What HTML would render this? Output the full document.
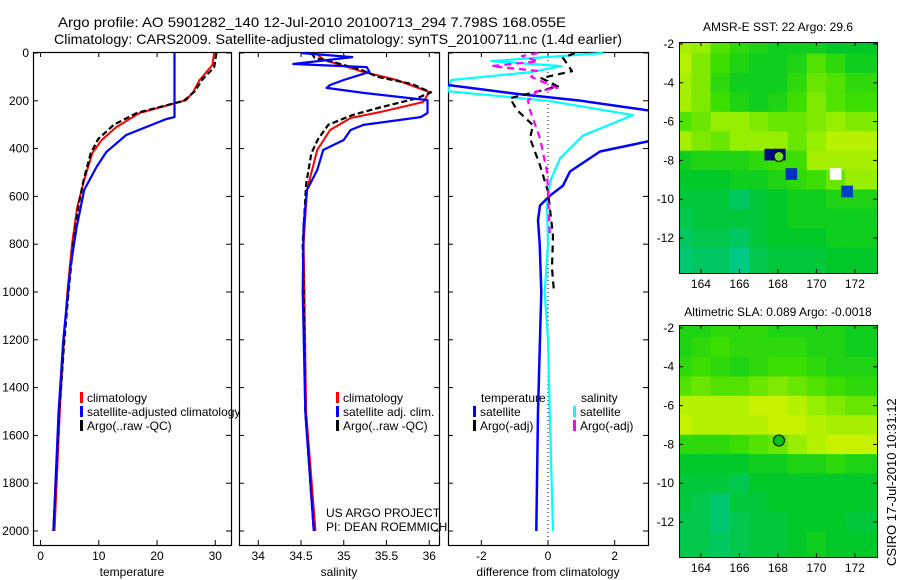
<!DOCTYPE html>
<html><head><meta charset="utf-8">
<style>
html,body{margin:0;padding:0;background:#fff;}
svg{display:block;font-family:"Liberation Sans",sans-serif;}
</style></head>
<body>
<svg id="chart" width="900" height="580" viewBox="0 0 900 580" xmlns="http://www.w3.org/2000/svg">
<rect width="900" height="580" fill="#fff"/>
<text x="58" y="27" font-size="14" textLength="508" lengthAdjust="spacingAndGlyphs">Argo profile: AO 5901282_140 12-Jul-2010 20100713_294 7.798S 168.055E</text>
<text x="54" y="44" font-size="14" textLength="568" lengthAdjust="spacingAndGlyphs">Climatology: CARS2009. Satellite-adjusted climatology: synTS_20100711.nc (1.4d earlier)</text>
<g id="plots"></g>
<text x="778" y="31" font-size="12" text-anchor="middle">AMSR-E SST: 22 Argo: 29.6</text>
<text x="778" y="316" font-size="12" text-anchor="middle">Altimetric SLA: 0.089 Argo: -0.0018</text>
<text transform="translate(896,566) rotate(-90)" font-size="13">CSIRO 17-Jul-2010 10:31:12</text>
<text x="326" y="517" font-size="12">US ARGO PROJECT</text>
<text x="326" y="531" font-size="12">PI: DEAN ROEMMICH</text>
</svg>
<script>
// ---- profile data (depth in dbar) ----
const climDepth = [0,50,113,163,197,251,310,364,418,531,644,800,1000,1200,1500,2000];
const climTemp  = [29.8,29.5,27.3,26.2,25,17,13,10.5,8.9,7.5,6.3,5.4,4.6,4.0,3.3,2.4];
const satTempDepth = [0,268,276,343,414,477,573,728,900,1200,1500,2000];
const satTemp      = [23,23,21.6,14.7,11.3,9.6,7.5,6.2,5.1,3.9,3.1,2.2];
const argoTempDepth = [0,30,60,110,160,200,250,300,360,420,530,640,800,1000,1200,1500,2000];
const argoTemp      = [30.2,30,29.8,27.8,26.5,24.6,16.6,12.6,9.9,8.6,7.4,6.5,5.6,4.8,4.1,3.2,2.2];

const climSalDepth = [0,29,79,113,163,205,247,272,322,406,573,800,1000,1500,2000];
const climSal      = [34.67,34.77,35.23,35.62,36.0,35.93,35.43,35.08,34.84,34.69,34.57,34.53,34.54,34.56,34.67];
const satSalDepth = [0,17,46,59,79,113,134,146,167,197,251,268,301,322,364,406,490,573,720,1000,1500,2000];
const satSal      = [34.5,35.1,34.41,35.27,35.3,35.0,34.84,34.8,35.23,35.98,35.98,35.9,35.23,35.08,35.0,34.76,34.69,34.57,34.53,34.52,34.55,34.65];
const argoSalDepth = [0,20,40,70,100,130,165,190,230,260,300,360,420,550,800,1000,1500,2000];
const argoSal      = [34.62,34.66,34.9,35.2,35.4,35.8,36.02,35.85,35.4,35.1,34.82,34.7,34.62,34.56,34.52,34.53,34.55,34.65];

const satTdiffDepth = [0,100,130,170,200,230,260,280,300,370,412,496,555,597,638,700,800,1000,1500,2000];
const satTdiff      = [-7,-5,-3.2,-1,1,2.5,4,5,4.5,3,1.56,0.66,0.45,0.06,-0.24,-0.3,-0.25,-0.2,-0.3,-0.35];
const satSdiffDepth = [0,34,55,80,113,160,200,260,345,441,538,638,800,1000,1200,1500,2000];
const satSdiff      = [1.65,-1.7,0.4,-0.5,-2.9,-3,0,2.55,1.05,0.36,0.06,-0.03,0,-0.1,0,0.05,0.15];
const argoTdiffDepth = [0,21,50,76,105,140,189,239,302,357,470,580,765,900,1000];
const argoTdiff      = [0.8,0.45,0.6,0.72,-0.2,0.3,-1.14,-0.93,-0.45,-0.54,-0.24,0,0.15,0.12,0.18];
const argoSdiffDepth = [0,13,35,55,75,100,147,160,200,239,357,496,777];
const argoSdiff      = [-0.3,-0.78,-0.3,-1.7,-0.33,-0.5,0.27,-0.33,-0.6,-0.54,-0.24,-0.03,0.06];

const depthTicks = [0,200,400,600,800,1000,1200,1400,1600,1800,2000];
const tempTicks = [0,10,20,30];
const salTicks = [34,34.5,35,35.5,36];
const diffTicks = [-2,0,2];

// ---- map data (rows lat -2..-13, cols lon 163..172) ----
const mapLats = [-2,-3,-4,-5,-6,-7,-8,-9,-10,-11,-12,-13];
const mapLons = [163,164,165,166,167,168,169,170,171,172];
const sstGrid = [
 [.8,.75,.6,.5,.45,.4,.4,.4,.35,.35],
 [.85,.7,.55,.45,.4,.4,.45,.6,.5,.4],
 [.8,.7,.5,.4,.4,.4,.5,.65,.6,.5],
 [.8,.7,.55,.45,.4,.45,.55,.7,.6,.55],
 [.6,.65,.75,.75,.7,.65,.65,.7,.75,.7],
 [.8,.7,.65,.75,.75,.75,.65,.75,.85,.85],
 [.4,.45,.45,.45,.5,.55,.55,.8,.8,.8],
 [.35,.35,.35,.4,.4,.45,.5,.55,.65,.75],
 [.3,.3,.3,.2,.3,.35,.4,.4,.45,.45],
 [.25,.3,.3,.3,.3,.35,.4,.4,.4,.4],
 [.2,.25,.25,.2,.3,.35,.35,.35,.4,.4],
 [.15,.2,.2,.1,.25,.3,.3,.3,.35,.35]];
const slaGrid = [
 [.45,.45,.5,.5,.5,.45,.45,.45,.45,.4],
 [.45,.5,.55,.5,.5,.5,.5,.45,.45,.4],
 [.5,.55,.5,.45,.5,.55,.55,.5,.45,.45],
 [.6,.65,.6,.6,.65,.7,.65,.6,.55,.5],
 [.85,.85,.85,.85,.9,.9,.85,.75,.7,.65],
 [.9,.85,.85,.85,.85,.9,.9,.85,.8,.8],
 [.5,.5,.5,.55,.6,.65,.75,.85,.9,.9],
 [.35,.35,.35,.35,.4,.4,.45,.45,.5,.45],
 [.3,.3,.3,.25,.35,.35,.35,.35,.35,.35],
 [.3,.25,.15,.3,.3,.35,.35,.35,.35,.35],
 [.25,.25,.15,.25,.3,.3,.35,.35,.35,.3],
 [.25,.25,.2,.25,.3,.3,.35,.4,.35,.35]];
const sstBlobLon = [167.6,168.1,168.7,171.6,171.0];
const sstBlobLat = [-7.7,-7.7,-8.7,-9.6,-8.7];
const sstBlobColor = ["#000a80","#000a80","#0030c0","#0040c0","#ffffff"];
const floatLon = 168.055, floatLat = -7.798;

const NS="http://www.w3.org/2000/svg";
const root=document.getElementById('plots');
function el(tag,attrs,parent){const e=document.createElementNS(NS,tag);for(const k in attrs)e.setAttribute(k,attrs[k]);(parent||root).appendChild(e);return e;}

const yTop=52, yBot=545;
const depthY = d => 53 + d*0.239;
const panels = [
 {name:'temperature-panel',x0:33,x1:231,vmin:-1.3,vmax:32.7,ticks:tempTicks,label:'temperature',tl:t=>String(t)},
 {name:'salinity-panel',x0:239,x1:439,vmin:33.775,vmax:36.114,ticks:salTicks,label:'salinity',tl:t=>String(t)},
 {name:'difference-panel',x0:448,x1:648,vmin:-3.0,vmax:3.0,ticks:diffTicks,label:'difference from climatology',tl:t=>String(t)}
];
panels.forEach(p=>{p.sx=v=>p.x0+(v-p.vmin)/(p.vmax-p.vmin)*(p.x1-p.x0);});

panels.forEach((p,i)=>{
  const g=el('g',{});
  
  
  const defs=el('clipPath',{id:'clip'+i},g);
  el('rect',{x:p.x0,y:yTop,width:p.x1-p.x0,height:yBot-yTop},defs);
  const fr=el('rect',{x:p.x0+.5,y:yTop+.5,width:p.x1-p.x0,height:yBot-yTop,fill:'none',stroke:'#000','stroke-width':1.2},g);
  
  
  p.ticks.forEach(t=>{
    const x=p.sx(t);
    el('line',{x1:x,y1:yTop,x2:x,y2:yTop+5,stroke:'#000'},g);
    el('line',{x1:x,y1:yBot,x2:x,y2:yBot-5,stroke:'#000'},g);
    const tx=el('text',{x:x,y:yBot+15,'font-size':12,'text-anchor':'middle'},g);
    tx.textContent=p.tl(t);
    
    
  });
  depthTicks.forEach(d=>{
    const y=depthY(d);
    el('line',{x1:p.x0,y1:y,x2:p.x0+5,y2:y,stroke:'#000'},g);
    el('line',{x1:p.x1,y1:y,x2:p.x1-5,y2:y,stroke:'#000'},g);
    if(i===0){
      const tx=el('text',{x:p.x0-4,y:y+4,'font-size':12,'text-anchor':'end'},g);
      tx.textContent=String(d);
      
      
    }
  });
  const xt=el('text',{x:(p.x0+p.x1)/2,y:576,'font-size':12,'text-anchor':'middle'},g);
  xt.textContent=p.label;
  
  
  p.g=g;
});

function line(p,idx,depths,vals,color,w,dash,name){
  const pts=depths.map((d,k)=>p.sx(vals[k]).toFixed(1)+','+depthY(d).toFixed(1)).join(' ');
  const l=el('polyline',{points:pts,fill:'none',stroke:color,'stroke-width':w,'clip-path':'url(#clip'+idx+')','stroke-linejoin':'round'},p.g);
  if(dash) l.setAttribute('stroke-dasharray',dash);
  
  
}
const zl=el('line',{x1:panels[2].sx(0),y1:yTop,x2:panels[2].sx(0),y2:yBot,stroke:'#000','stroke-dasharray':'1,3'},panels[2].g);



line(panels[0],0,climDepth,climTemp,'#ff0000',2,null,'climatology-temperature-line');
line(panels[0],0,argoTempDepth,argoTemp,'#000',2.2,'6,3','argo-temperature-line');
line(panels[0],0,satTempDepth,satTemp,'#0000ff',2.2,null,'satellite-temperature-line');
line(panels[1],1,climSalDepth,climSal,'#ff0000',2,null,'climatology-salinity-line');
line(panels[1],1,argoSalDepth,argoSal,'#000',2.2,'6,3','argo-salinity-line');
line(panels[1],1,satSalDepth,satSal,'#0000ff',2.2,null,'satellite-salinity-line');
line(panels[2],2,satSdiffDepth,satSdiff,'#00ffff',2.2,null,'satellite-salinity-diff-line');
line(panels[2],2,satTdiffDepth,satTdiff,'#0000ff',2.5,null,'satellite-temperature-diff-line');
line(panels[2],2,argoTdiffDepth,argoTdiff,'#000',2.2,'7,5','argo-temperature-diff-line');
line(panels[2],2,argoSdiffDepth,argoSdiff,'#ff00ff',2.2,'7,5','argo-salinity-diff-line');

function legend(g,x,y,color,text,name){
  const lg=el('g',{},g);
  
  
  el('rect',{x:x,y:y-10,width:3,height:11,fill:color},lg);
  const t=el('text',{x:x+7,y:y,'font-size':12},lg);
  t.textContent=text;
}
legend(panels[0].g,80,402,'#ff0000','climatology','legend-climatology');
legend(panels[0].g,80,416,'#0000ff','satellite-adjusted climatology','legend-satellite-adjusted');
legend(panels[0].g,80,430,'#000','Argo(..raw -QC)','legend-argo');
legend(panels[1].g,336,402,'#ff0000','climatology','legend-climatology-sal');
legend(panels[1].g,336,416,'#0000ff','satellite adj. clim.','legend-satellite-sal');
legend(panels[1].g,336,430,'#000','Argo(..raw -QC)','legend-argo-sal');
{
 const t1=el('text',{x:481,y:402,'font-size':12},panels[2].g);t1.textContent='temperature';
 
 
 const t2=el('text',{x:581,y:402,'font-size':12},panels[2].g);t2.textContent='salinity';
 
 
}
legend(panels[2].g,473,416,'#0000ff','satellite','legend-temp-satellite');
legend(panels[2].g,473,430,'#000','Argo(-adj)','legend-temp-argo');
legend(panels[2].g,573,416,'#00ffff','satellite','legend-sal-satellite');
legend(panels[2].g,573,430,'#ff00ff','Argo(-adj)','legend-sal-argo');

// ---- maps ----
function cmap(v){
  const stops=[[0,[0,200,170]],[0.35,[0,200,40]],[0.55,[60,222,0]],[0.75,[150,238,0]],[1,[230,245,0]]];
  for(let k=1;k<stops.length;k++){
    if(v<=stops[k][0]){const a=stops[k-1],b=stops[k];const t=(v-a[0])/(b[0]-a[0]);
      return 'rgb('+a[1].map((c,j)=>Math.round(c+(b[1][j]-c)*t)).join(',')+')';}
  }
  return 'rgb(230,245,0)';
}
function drawMap(name,x0,x1,y0,y1,latTop,latBot,grid,idx){
  const g=el('g',{});
  
  
  const lonL=162.86, lonR=173.15;
  const sx=lon=>x0+(lon-lonL)/(lonR-lonL)*(x1-x0);
  const sy=lat=>y0+(latTop-lat)/(latTop-latBot)*(y1-y0);
  const cp=el('clipPath',{id:'mclip'+idx},g);
  el('rect',{x:x0,y:y0,width:x1-x0,height:y1-y0},cp);
  const cells=el('g',{'clip-path':'url(#mclip'+idx+')'},g);
  mapLats.forEach((lat,r)=>mapLons.forEach((lon,c)=>{
    const xa=sx(lon-0.5-(c===0?1:0)), xb=sx(lon+0.5+(c===mapLons.length-1?1:0));
    const ya=sy(lat+0.5+(r===0?1:0)), yb=sy(lat-0.5-(r===mapLats.length-1?1:0));
    const cell=el('rect',{x:xa,y:ya,width:xb-xa+0.5,height:yb-ya+0.5,fill:cmap(grid[r][c])},cells);
    
    
  }));
  el('rect',{x:x0+.5,y:y0+.5,width:x1-x0,height:y1-y0,fill:'none',stroke:'#000'},g);
  [164,166,168,170,172].forEach(l=>{
    const x=sx(l);
    el('line',{x1:x,y1:y0,x2:x,y2:y0+4,stroke:'#000'},g);
    el('line',{x1:x,y1:y1,x2:x,y2:y1-4,stroke:'#000'},g);
    const t=el('text',{x:x,y:y1+15,'font-size':12,'text-anchor':'middle'},g);t.textContent=String(l);
    
    
  });
  [-2,-4,-6,-8,-10,-12].forEach(l=>{
    const y=sy(l);
    el('line',{x1:x0,y1:y,x2:x0+4,y2:y,stroke:'#000'},g);
    el('line',{x1:x1,y1:y,x2:x1-4,y2:y,stroke:'#000'},g);
    const t=el('text',{x:x0-5,y:y+4,'font-size':12,'text-anchor':'end'},g);t.textContent=String(l);
    
    
  });
  return {g,sx,sy,cells};
}
const m1=drawMap('sst-map',679,877,42,273,-1.9,-13.8,sstGrid,1);
sstBlobLon.forEach((lon,k)=>{
  const h=0.3;
  const b=el('rect',{x:m1.sx(lon-h),y:m1.sy(sstBlobLat[k]+h),width:m1.sx(lon+h)-m1.sx(lon-h),height:m1.sy(sstBlobLat[k]-h)-m1.sy(sstBlobLat[k]+h),fill:sstBlobColor[k]},m1.cells);
  
  
});
const f1=el('circle',{cx:m1.sx(floatLon),cy:m1.sy(floatLat),r:5,fill:'#70e020',stroke:'#000','stroke-width':1},m1.g);


const m2=drawMap('sla-map',679,877,325,557,-1.85,-13.8,slaGrid,2);
const f2=el('circle',{cx:m2.sx(floatLon),cy:m2.sy(floatLat),r:5.5,fill:'#00c020',stroke:'#000','stroke-width':1},m2.g);


</script>
</body></html>
